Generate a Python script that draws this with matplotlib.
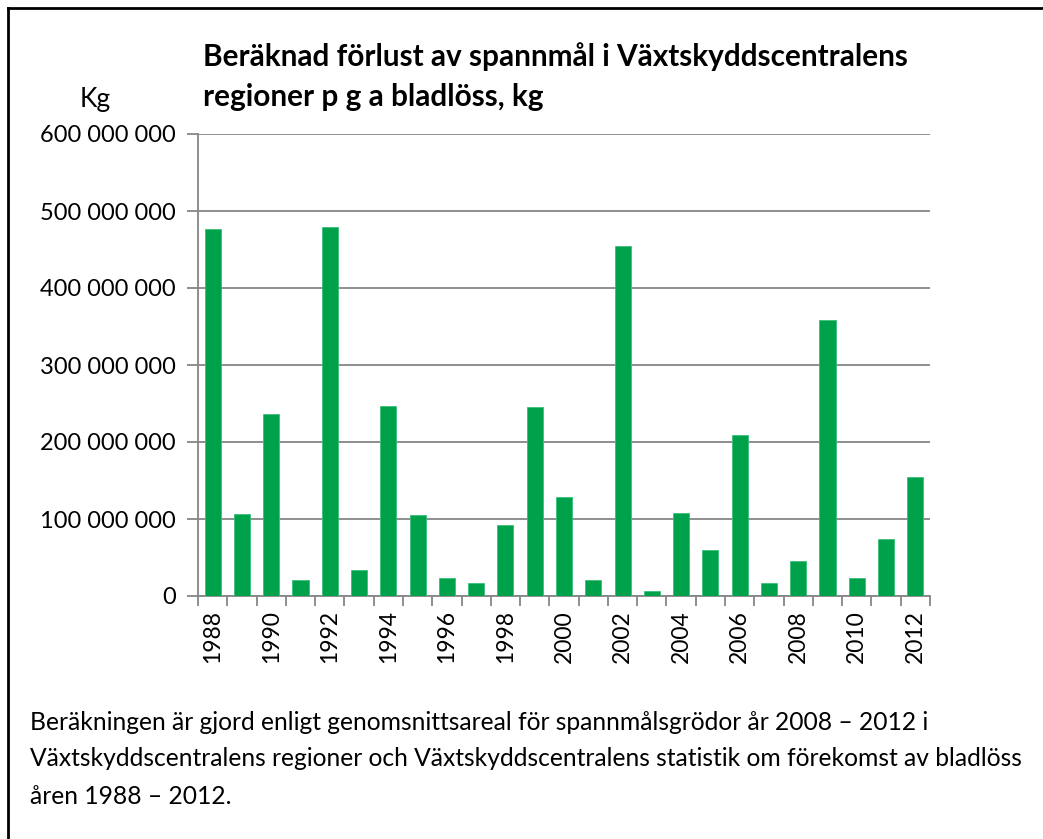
import matplotlib.pyplot as plt
from matplotlib.lines import Line2D
from matplotlib.ticker import FuncFormatter

# Data
years = list(range(1988, 2013))
loss_kg = [477e6, 106e6, 237e6, 21e6, 479e6, 34e6, 247e6, 105e6, 24e6, 17e6,
           92e6, 246e6, 128e6, 21e6, 455e6, 6e6, 108e6, 60e6, 209e6, 17e6,
           46e6, 359e6, 24e6, 74e6, 155e6]
y_ticks = [0, 100e6, 200e6, 300e6, 400e6, 500e6, 600e6]

title_lines = ['Beräknad förlust av spannmål i Växtskyddscentralens',
               'regioner p g a bladlöss, kg']
caption_lines = ['Beräkningen är gjord enligt genomsnittsareal för spannmålsgrödor år 2008 – 2012 i',
                 'Växtskyddscentralens regioner och Växtskyddscentralens statistik om förekomst av bladlöss',
                 'åren 1988 – 2012.']

plt.rcParams['font.family'] = ['Lato', 'DejaVu Sans']

fig = plt.figure(figsize=(10.43, 8.39), dpi=100)
ax = fig.add_axes([198 / 1043, 1 - 596 / 839, 732 / 1043, 462 / 839])

x = list(range(len(years)))
ax.bar(x, loss_kg, width=0.55, color='#00A14B', edgecolor='#3cc07a', linewidth=0.6, zorder=3)

ax.set_xlim(-0.5, len(years) - 0.5)
ax.set_ylim(0, 600e6)
ax.set_yticks(y_ticks)
ax.yaxis.set_major_formatter(FuncFormatter(lambda v, p: f'{int(v):,}'.replace(',', ' ')))
ax.grid(axis='y', color='#868686', linewidth=1.3, zorder=0)

# tick marks between categories, labels on even years
ax.set_xticks([i - 0.5 for i in range(len(years) + 1)])
ax.set_xticklabels([])
ax.set_xticks(x[::2], minor=True)
ax.set_xticklabels([str(y) for y in years[::2]], minor=True, rotation=90, fontsize=16.5)
ax.tick_params(axis='x', which='major', length=7, color='#868686', width=1.3)
ax.tick_params(axis='x', which='minor', length=0, pad=10)
ax.tick_params(axis='y', length=8, color='#868686', width=1.3, labelsize=17, pad=8)

for s in ['top', 'right']:
    ax.spines[s].set_visible(False)
for s in ['left', 'bottom']:
    ax.spines[s].set_color('#868686')
    ax.spines[s].set_linewidth(1.3)

for i, line in enumerate(title_lines):
    fig.text(203 / 1043, 1 - (57 + 40 * i) / 839, line, fontsize=21.4, fontweight='bold', va='center')
fig.text(95 / 1043, 1 - 99 / 839, 'Kg', fontsize=19, ha='center', va='center')
for i, line in enumerate(caption_lines):
    fig.text(30 / 1043, 1 - (722 + 37 * i) / 839, line, fontsize=17.7, va='center')

# frame lines at top and left
fig.add_artist(Line2D([8 / 1043, 1], [1 - 8 / 839, 1 - 8 / 839], color='black', linewidth=2,
                      transform=fig.transFigure))
fig.add_artist(Line2D([8 / 1043, 8 / 1043], [0, 1 - 8 / 839], color='black', linewidth=2,
                      transform=fig.transFigure))

fig.savefig('out.png', dpi=100)
plt.close(fig)
